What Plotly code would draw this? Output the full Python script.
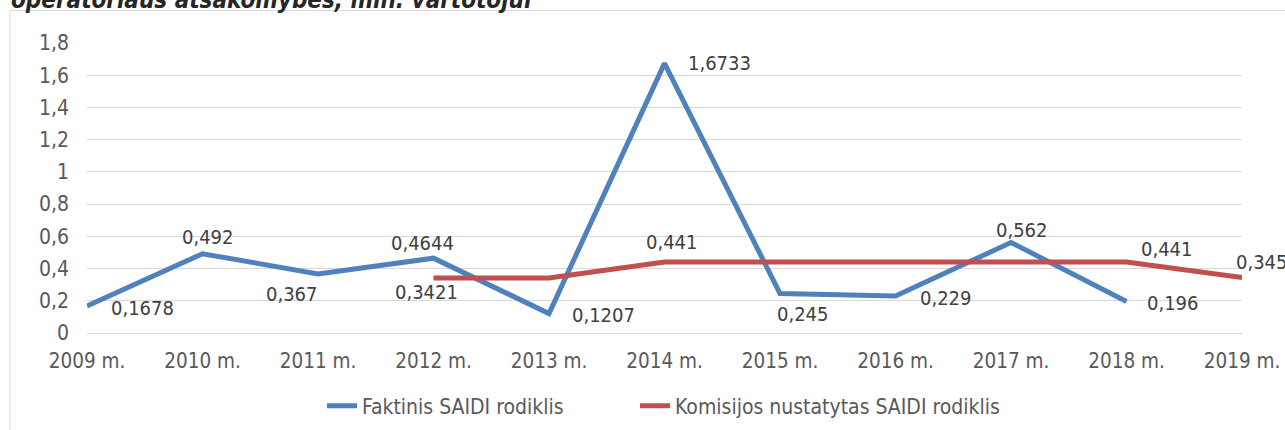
import plotly.graph_objects as go

# ---- data ----
years = ["2009 m.", "2010 m.", "2011 m.", "2012 m.", "2013 m.", "2014 m.",
         "2015 m.", "2016 m.", "2017 m.", "2018 m.", "2019 m."]
faktinis = [0.1678, 0.492, 0.367, 0.4644, 0.1207, 1.6733, 0.245, 0.229, 0.562, 0.196, None]
komisijos = [None, None, None, 0.3421, 0.3421, 0.441, 0.441, 0.441, 0.441, 0.441, 0.345]
komisijos_labeled = [False, False, False, True, False, True, False, False, False, True, True]
y_ticks = [0, 0.2, 0.4, 0.6, 0.8, 1.0, 1.2, 1.4, 1.6, 1.8]
series_names = ["Faktinis SAIDI rodiklis", "Komisijos nustatytas SAIDI rodiklis"]
title_text = "operatoriaus atsakomybės, min. vartotojui"

# ---- label placement (pixel offsets from the point) ----
blue_offsets = [(55, 2), (5, -17), (-26, 20), (-11, -15), (54, 1), (55, 0),
                (23, 20), (50, 2), (11, -12), (46, 2), None]
red_offsets = [None, None, None, (-7, 14), None, (7, -20), None, None, None, (40, -13), (20, -15)]

BLUE = "#4F81BD"
RED = "#C0504D"
FONT = "DejaVu Sans Condensed, Liberation Sans, Arial, sans-serif"
W, H = 1285, 430
ML, MR, MT, MB = 87, 43, 43, 97
PW = W - ML - MR
PH = H - MT - MB


def fmt(v):
    return f"{v:g}".replace(".", ",")


fig = go.Figure()
fig.add_trace(go.Scatter(x=years, y=faktinis, mode="lines", name=series_names[0],
                         line=dict(color=BLUE, width=5), hoverinfo="skip",
                         legendwidth=268))
fig.add_trace(go.Scatter(x=years, y=komisijos, mode="lines", name=series_names[1],
                         line=dict(color=RED, width=5), hoverinfo="skip",
                         legendwidth=340))

annotations = []
for i, v in enumerate(faktinis):
    if v is None or blue_offsets[i] is None:
        continue
    dx, dy = blue_offsets[i]
    annotations.append(dict(x=years[i], y=v, xref="x", yref="y", text=fmt(v),
                            showarrow=False, xanchor="center", yanchor="middle",
                            xshift=dx, yshift=-dy,
                            font=dict(family=FONT, size=20, color="#404040")))
for i, v in enumerate(komisijos):
    if v is None or not komisijos_labeled[i]:
        continue
    dx, dy = red_offsets[i]
    annotations.append(dict(x=years[i], y=v, xref="x", yref="y", text=fmt(v),
                            showarrow=False, xanchor="center", yanchor="middle",
                            xshift=dx, yshift=-dy,
                            font=dict(family=FONT, size=20, color="#404040")))

# cut-off document caption above the chart
annotations.append(dict(x=(9 - ML) / PW, y=1 + (MT - 16) / PH, xref="paper", yref="paper",
                        text="<b><i>" + title_text + "</i></b>", showarrow=False,
                        xanchor="left", yanchor="bottom",
                        font=dict(family=FONT, size=24, color="#262626")))

fig.update_layout(
    width=W, height=H,
    margin=dict(l=ML, r=MR, t=MT, b=MB, autoexpand=False),
    paper_bgcolor="white", plot_bgcolor="white",
    separators=", ",
    showlegend=True,
    legend=dict(orientation="h", x=(322 - ML) / PW, xanchor="left",
                y=-(406 - H + MB) / PH, yanchor="middle",
                font=dict(family=FONT, size=21, color="#595959"),
                bgcolor="rgba(0,0,0,0)"),
    xaxis=dict(type="category", range=[0, 10], showgrid=False, zeroline=False,
               showline=False, ticks="", tickfont=dict(family=FONT, size=20.5, color="#595959"),
               ticklabelstandoff=13, fixedrange=True),
    yaxis=dict(range=[0, 1.8], tickvals=y_ticks, showgrid=True, gridcolor="#D9D9D9",
               gridwidth=1, zeroline=True, zerolinecolor="#D9D9D9", zerolinewidth=1,
               showline=False, ticks="", tickformat="~r",
               tickfont=dict(family=FONT, size=21, color="#595959"),
               ticklabelstandoff=17, fixedrange=True),
    annotations=annotations,
    shapes=[dict(type="rect", xref="paper", yref="paper",
                 x0=(10 - ML) / PW, x1=1.2, y0=-1.0, y1=1 + (MT - 10.5) / PH,
                 line=dict(color="#D9D9D9", width=1), fillcolor="rgba(0,0,0,0)",
                 layer="below")],
)

fig.write_html("out.html",
               config={"displayModeBar": False},
               post_script="document.body.style.margin='0';document.body.style.overflow='hidden';")
